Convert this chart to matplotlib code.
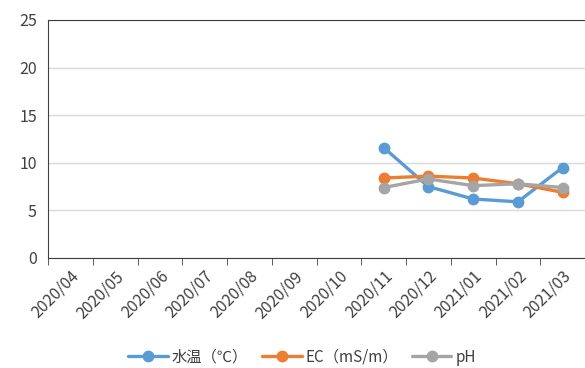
import numpy as np
import matplotlib
matplotlib.use("Agg")
import matplotlib.pyplot as plt

plt.rcParams['font.family'] = ['Noto Sans CJK JP', 'DejaVu Sans']

months = ["2020/04", "2020/05", "2020/06", "2020/07", "2020/08", "2020/09",
          "2020/10", "2020/11", "2020/12", "2021/01", "2021/02", "2021/03"]
nan = np.nan
water_temp = [nan, nan, nan, nan, nan, nan, nan, 11.6, 7.5, 6.2, 5.9, 9.5]
ec = [nan, nan, nan, nan, nan, nan, nan, 8.4, 8.6, 8.4, 7.8, 6.9]
ph = [nan, nan, nan, nan, nan, nan, nan, 7.4, 8.3, 7.6, 7.8, 7.4]
series_labels = ["水温（℃）", "EC（mS/m）", "pH"]
colors = ["#5B9BD5", "#ED7D31", "#A5A5A5"]

fig = plt.figure(figsize=(5.85, 3.68), dpi=100)
ax = fig.add_axes([48/585, 1-258/368, 1-48/585, (258-20)/368])

x = np.arange(len(months))
for vals, lab, c in zip([water_temp, ec, ph], series_labels, colors):
    ax.plot(x, vals, color=c, lw=2.4, marker='o', markersize=7.5, label=lab,
            solid_capstyle='round', clip_on=False)

ax.set_xlim(-0.5, len(months) - 0.5)
ax.set_ylim(0, 25)
ax.set_yticks([0, 5, 10, 15, 20, 25])
ax.yaxis.grid(True, color='#D9D9D9', lw=1)
ax.set_axisbelow(True)
ax.tick_params(axis='y', length=0, labelsize=11.5, colors='#404040', pad=8)

ax.set_xticks(x)
ax.set_xticklabels(months, rotation=45, ha='right', va='top',
                   rotation_mode='anchor', fontsize=11.5, color='#404040')
ax.tick_params(axis='x', which='major', length=0, pad=7)
ax.set_xticks(np.arange(-0.5, len(months)), minor=True)
ax.tick_params(axis='x', which='minor', length=5, direction='out', color='#404040')

ax.spines['right'].set_visible(False)
ax.spines['top'].set_color('#404040')
ax.spines['left'].set_color('#404040')
ax.spines['bottom'].set_color('#404040')

leg = fig.legend(loc='center', bbox_to_anchor=(302/585, 1-357/368), ncol=3,
                 frameon=False, fontsize=11, handlelength=2.6,
                 columnspacing=0.9, handletextpad=0.25)
for t in leg.get_texts():
    t.set_color('#404040')

fig.savefig("out.png", dpi=100)
